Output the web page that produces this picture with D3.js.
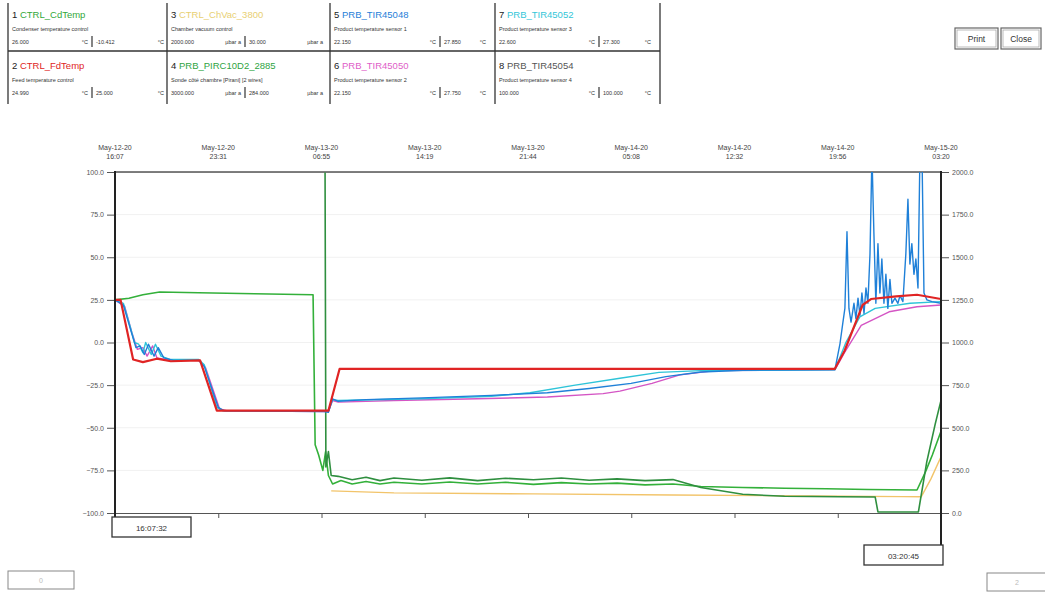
<!DOCTYPE html>
<html>
<head>
<meta charset="utf-8">
<script src="https://cdn.jsdelivr.net/npm/d3@7"></script>
<style>
  body { margin: 0; background: #fff; }
  svg { font-family: "Liberation Sans", Arial, sans-serif; }
</style>
</head>
<body>
<svg id="chart" width="1045" height="592"></svg>
<script>
// channel table (header)
const channelNames = ["CTRL_CdTemp", "CTRL_FdTemp", "CTRL_ChVac_3800", "PRB_PIRC10D2_2885",
  "PRB_TIR45048", "PRB_TIR45050", "PRB_TIR45052", "PRB_TIR45054"];
const channelDescriptions = ["Condenser temperature control", "Feed temperature control",
  "Chamber vacuum control", "Sonde côté chambre [Pirani] [2 wires]",
  "Product temperature sensor 1", "Product temperature sensor 2",
  "Product temperature sensor 3", "Product temperature sensor 4"];
const channelStart = ["26.000", "24.990", "2000.000", "3000.000", "22.150", "22.150", "22.600", "100.000"];
const channelEnd = ["-10.412", "25.000", "30.000", "284.000", "27.850", "27.750", "27.300", "100.000"];
const channelUnits = ["°C", "°C", "µbar a", "µbar a", "°C", "°C", "°C", "°C"];

// time range
const startTime = new Date(2020, 4, 12, 16, 7, 32);
const endTime = new Date(2020, 4, 15, 3, 20, 45);

// axis ticks
const leftTicks = [100, 75, 50, 25, 0, -25, -50, -75, -100];
const rightTicks = [2000, 1750, 1500, 1250, 1000, 750, 500, 250, 0];

// series: [hours since start, value]
const cdTemp = [[0,25],[1,26],[2,28],[3.2,29.6],[6,29.2],[10,28.6],[14.2,28],[14.35,-60],[14.6,-66],
  [14.9,-75],[15.1,-64],[15.3,-78],[15.6,-83],[16.2,-81],[17,-83],[18,-81.5],[19,-83],[20,-82],
  [22,-83],[24,-81.8],[26,-83],[28,-82],[30,-83.2],[32,-82.2],[34,-83],[36,-82.5],[38,-83.5],
  [40,-83],[42,-84.5],[45,-85],[48,-85.5],[51,-85.8],[54,-86.2],[57.5,-86.5],[58.1,-76],[58.6,-66],[59.22,-52]];
const fdTemp = [[0,25],[0.4,25],[1.3,-10],[2,-11.5],[3,-9.5],[4,-11],[6.1,-10.5],[7.3,-40],[15.3,-40],
  [16.1,-15.5],[30,-15.5],[51.6,-15.5],[52.3,-5],[53.6,22],[54.2,25.5],[56,27],[57.5,28],[59.22,25.5]];
const chVac = [[15.5,130],[20,118],[30,112],[40,106],[50,100],[56.5,96],
  [57.8,95],[58.5,200],[59.22,330]];
const pirani = [[0,2300],[15.05,2300],[15.12,270],[15.3,360],[15.5,220],[16,215],[17,195],[18,210],
  [19,190],[20,205],[22,192],[24,206],[26,190],[28,204],[30,195],[32,205],[34,192],[36,200],
  [38,190],[40,196],[42,150],[45,110],[48,98],[52,95],[54.5,94],[54.7,6],[57.6,6],[58.2,300],[58.8,520],[59.22,660]];
const tir48 = [[0,25],[0.6,22],[1.1,8],[1.5,-3],[1.8,-2],[2.1,-7],[2.4,-1],[2.8,-8],[3.1,-3],[3.5,-9],
  [4.2,-10.5],[6,-10.5],[6.4,-14],[7.4,-38],[7.8,-40],[15,-40.5],[15.3,-41],[15.6,-33],[16,-34.5],
  [18,-33.5],[22,-32.5],[27,-31],[31,-29.5],[34,-27],[37,-24],[39.5,-20],[42,-17.3],[45,-16.3],[51.62,-15.8],
  [51.98,-0.6],[52.19,12],[52.33,20],[52.48,65],[52.62,20],[52.77,12],[52.98,23],[53.12,14],[53.27,26],
  [53.41,16],[53.55,29],[53.7,17],[53.84,32],[53.98,23],[54.13,52],[54.27,110],[54.41,64],[54.55,23],
  [54.7,58],[54.84,29],[54.98,49],[55.13,23],[55.27,40],[55.41,20],[55.56,37],[55.7,23],[55.92,26],
  [56.13,23],[56.28,27.5],[56.49,24],[56.7,52],[56.85,84],[56.99,46],[57.13,58],[57.28,40],[57.42,49],
  [57.57,32],[57.71,110],[57.85,115],[58,29],[58.21,25],[58.57,24],[59.22,23]];
const tir50 = [[0,25],[0.7,21],[1.2,6],[1.6,-4],[2,-3],[2.3,-8],[2.7,-2],[3,-9],[3.6,-10],[6,-10.2],
  [6.5,-15],[7.5,-39],[8,-40],[15.3,-40.5],[15.6,-34],[16,-35],[20,-34],[26,-33],[31,-32],
  [35,-30],[36.2,-28.5],[38.5,-24],[40.5,-19],[43,-16.5],[51.62,-16],[52.3,-6],[53.5,10],[55.5,18],
  [57.5,21],[59.22,22]];
const tir52 = [[0,25],[0.6,23],[1.1,9],[1.4,0],[1.7,-1],[2,-6],[2.2,0],[2.6,-7],[2.9,-1],[3.3,-8],
  [4,-10],[6,-10],[6.4,-13],[7.3,-38],[7.7,-40],[15.3,-40],[15.6,-33.5],[16,-34],[22,-33],
  [27,-31.5],[29.75,-29.5],[33,-25],[36.2,-21],[39,-17.5],[42,-16.5],[51.62,-16],[52.4,0],[53.4,15],
  [54.5,20],[57,23],[59.22,24]];
const tir54 = [[0,100],[59.22,100]];

const seriesList = [
  { data: cdTemp, axis: "left", color: "#33b03a", width: 1.6 },
  { data: chVac, axis: "right", color: "#f2c46a", width: 1.4 },
  { data: pirani, axis: "right", color: "#2f8f3f", width: 1.6 },
  { data: tir54, axis: "left", color: "#777", width: 1.2 },
  { data: tir50, axis: "left", color: "#d455c4", width: 1.4 },
  { data: tir52, axis: "left", color: "#2ec4d8", width: 1.4 },
  { data: tir48, axis: "left", color: "#1f80d8", width: 1.4 },
  { data: fdTemp, axis: "left", color: "#e02424", width: 2.2 },
];

const headerColors = ["#33a83a", "#e02424", "#e8cf72", "#2fa43f", "#1f80d8", "#e060c8", "#34c6d8", "#555"];

const svg = d3.select("#chart");

// plot geometry
const plot = { left: 115, right: 941, top: 172, bottom: 513 };

const x = d3.scaleTime().domain([startTime, endTime]).range([plot.left, plot.right]);
const yLeft = d3.scaleLinear().domain([-100, 100]).range([plot.bottom, plot.top]);
const yRight = d3.scaleLinear().domain([0, 2000]).range([plot.bottom, plot.top]);
const hourDate = (h) => new Date(startTime.getTime() + h * 3600 * 1000);

// ---- header table ----
const colX = [8, 167, 330, 495];
const barOff = [84, 78, 110, 104];
const head = svg.append("g");
[8, 167, 330, 495, 660].forEach(xx => {
  head.append("line").attr("x1", xx).attr("x2", xx).attr("y1", 3).attr("y2", 104)
    .attr("stroke", "#333").attr("stroke-width", 1.3);
});
head.append("line").attr("x1", 8).attr("x2", 660).attr("y1", 51).attr("y2", 51)
  .attr("stroke", "#333").attr("stroke-width", 1.3);

channelNames.forEach((name, i) => {
  const cx = colX[Math.floor(i / 2)];
  const cy = (i % 2) * 51;
  const bo = barOff[Math.floor(i / 2)];
  const t = head.append("text").attr("x", cx + 4).attr("y", cy + 18).style("font-size", "9.5px");
  t.append("tspan").attr("fill", "#222").text((i + 1) + " ");
  t.append("tspan").attr("fill", headerColors[i]).text(name);
  head.append("text").attr("x", cx + 4).attr("y", cy + 31).style("font-size", "5.5px")
    .attr("fill", "#333").text(channelDescriptions[i]);
  head.append("text").attr("x", cx + 4).attr("y", cy + 44).style("font-size", "5.5px")
    .attr("fill", "#333").text(channelStart[i]);
  head.append("text").attr("x", cx + bo - 4).attr("y", cy + 44).attr("text-anchor", "end")
    .style("font-size", "5.5px").attr("fill", "#333").text(channelUnits[i]);
  head.append("line").attr("x1", cx + bo).attr("x2", cx + bo).attr("y1", cy + 36).attr("y2", cy + 47)
    .attr("stroke", "#333").attr("stroke-width", 1.2);
  head.append("text").attr("x", cx + bo + 4).attr("y", cy + 44).style("font-size", "5.5px")
    .attr("fill", "#333").text(channelEnd[i]);
  head.append("text").attr("x", cx + 156).attr("y", cy + 44).attr("text-anchor", "end")
    .style("font-size", "5.5px").attr("fill", "#333").text(channelUnits[i]);
});

// ---- buttons ----
[["Print", 955, 43], ["Close", 1001, 40]].forEach(([label, bx, bw]) => {
  svg.append("rect").attr("x", bx).attr("y", 28).attr("width", bw).attr("height", 21)
    .attr("fill", "#fff").attr("stroke", "#666").attr("stroke-width", 1.2);
  svg.append("rect").attr("x", bx + 2).attr("y", 30).attr("width", bw - 4).attr("height", 17)
    .attr("fill", "none").attr("stroke", "#aaa").attr("stroke-width", 0.8);
  svg.append("text").attr("x", bx + bw / 2).attr("y", 42).attr("text-anchor", "middle")
    .style("font-size", "8.5px").attr("fill", "#333").text(label);
});

// ---- grid ----
svg.append("g").selectAll("line").data(leftTicks.slice(1, -1)).join("line")
  .attr("x1", plot.left).attr("x2", plot.right)
  .attr("y1", d => yLeft(d)).attr("y2", d => yLeft(d))
  .attr("stroke", "#f1f1f1").attr("stroke-width", 1);

// ---- time axis ----
const timeTicks = d3.range(9).map(i => new Date(startTime.getTime() + i * (endTime - startTime) / 8));
const fmtDay = d3.timeFormat("%b-%d-%y");
const fmtHour = d3.timeFormat("%H:%M");
const topLabels = svg.append("g").selectAll("text").data(timeTicks).join("text")
  .attr("x", d => x(d)).attr("text-anchor", "middle")
  .style("font-size", "7px").attr("fill", "#444");
topLabels.append("tspan").attr("x", d => x(d)).attr("y", 150).text(d => fmtDay(d));
topLabels.append("tspan").attr("x", d => x(d)).attr("y", 159).text(d => fmtHour(d));

svg.append("line").attr("x1", plot.left).attr("x2", plot.right).attr("y1", plot.top).attr("y2", plot.top)
  .attr("stroke", "#555").attr("stroke-width", 1.5);

const bottomAxis = svg.append("g").attr("transform", `translate(0,${plot.bottom})`)
  .call(d3.axisBottom(x).tickValues(timeTicks.slice(1, -1)).tickFormat("").tickSize(5).tickSizeOuter(0));
bottomAxis.select(".domain").attr("stroke", "#555").attr("stroke-width", 1.2);
bottomAxis.selectAll(".tick line").attr("stroke", "#555");

// ---- value axes ----
const leftAxis = svg.append("g").attr("transform", `translate(${plot.left},0)`)
  .call(d3.axisLeft(yLeft).tickValues(leftTicks).tickFormat(d3.format(".1f")).tickSize(8).tickSizeOuter(0));
leftAxis.select(".domain").remove();
leftAxis.selectAll(".tick line").attr("stroke", "#555");
leftAxis.selectAll(".tick text").style("font-size", "7px").attr("fill", "#555")
  .style("font-family", "Liberation Sans, Arial, sans-serif");

const rightAxis = svg.append("g").attr("transform", `translate(${plot.right},0)`)
  .call(d3.axisRight(yRight).tickValues(rightTicks).tickFormat(d3.format(".1f")).tickSize(8).tickSizeOuter(0));
rightAxis.select(".domain").remove();
rightAxis.selectAll(".tick line").attr("stroke", "#555");
rightAxis.selectAll(".tick text").style("font-size", "7px").attr("fill", "#555")
  .style("font-family", "Liberation Sans, Arial, sans-serif");

// ---- series ----
svg.append("clipPath").attr("id", "plotClip").append("rect")
  .attr("x", plot.left).attr("y", plot.top).attr("width", plot.right - plot.left)
  .attr("height", plot.bottom - plot.top);

const lines = svg.append("g").attr("clip-path", "url(#plotClip)");
seriesList.forEach(s => {
  const yScale = s.axis === "left" ? yLeft : yRight;
  const line = d3.line().x(d => x(hourDate(d[0]))).y(d => yScale(d[1]));
  lines.append("path").datum(s.data).attr("d", line)
    .attr("fill", "none").attr("stroke", s.color).attr("stroke-width", s.width)
    .attr("stroke-linejoin", "round");
});

// ---- axis lines down to the time boxes ----
svg.append("line").attr("x1", plot.left).attr("x2", plot.left).attr("y1", plot.top - 1).attr("y2", 517)
  .attr("stroke", "#222").attr("stroke-width", 2);
svg.append("line").attr("x1", plot.right).attr("x2", plot.right).attr("y1", plot.top - 1).attr("y2", 545)
  .attr("stroke", "#222").attr("stroke-width", 2);

// ---- start / end time boxes ----
const fmtFull = d3.timeFormat("%H:%M:%S");
[[startTime, 112, 517], [endTime, 864, 545]].forEach(([t, bx, by]) => {
  svg.append("rect").attr("x", bx).attr("y", by).attr("width", 79).attr("height", 20)
    .attr("fill", "#fff").attr("stroke", "#333").attr("stroke-width", 1.3);
  svg.append("text").attr("x", bx + 39.5).attr("y", by + 13.5).attr("text-anchor", "middle")
    .style("font-size", "8px").attr("fill", "#333").text(fmtFull(t));
});

// ---- page boxes ----
[[8, 571, 66, "0"], [987, 573, 60, "2"]].forEach(([bx, by, bw, label]) => {
  svg.append("rect").attr("x", bx).attr("y", by).attr("width", bw).attr("height", 18)
    .attr("fill", "#fff").attr("stroke", "#888").attr("stroke-width", 1);
  svg.append("text").attr("x", bx + bw / 2).attr("y", by + 12).attr("text-anchor", "middle")
    .style("font-size", "7px").attr("fill", "#bbb").text(label);
});
</script>
</body>
</html>
